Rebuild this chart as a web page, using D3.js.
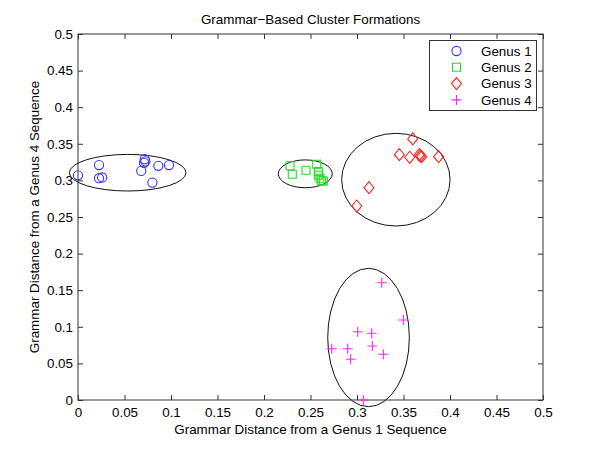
<!DOCTYPE html>
<html>
<head>
<meta charset="utf-8">
<script src="https://cdn.jsdelivr.net/npm/d3@7"></script>
<style>
  body { margin: 0; background: #fff; }
  text { font-family: "Liberation Sans", Arial, sans-serif; }
</style>
</head>
<body>
<div id="chart"></div>
<script>
// cluster points
const genus1X = [0.000, 0.0226, 0.0226, 0.026, 0.0717, 0.0724, 0.071, 0.068, 0.0864, 0.0978, 0.080];
const genus1Y = [0.307, 0.321, 0.303, 0.304, 0.329, 0.326, 0.324, 0.313, 0.320, 0.321, 0.297];
const genus2X = [0.228, 0.2304, 0.2452, 0.2567, 0.2584, 0.2588, 0.2602, 0.262, 0.2638];
const genus2Y = [0.320, 0.3083, 0.3138, 0.322, 0.312, 0.307, 0.3029, 0.2996, 0.2992];
const genus3X = [0.3599, 0.3455, 0.3567, 0.367, 0.368, 0.3696, 0.3878, 0.3129, 0.2997];
const genus3Y = [0.3566, 0.3351, 0.3316, 0.3351, 0.3333, 0.3324, 0.3324, 0.290, 0.265];
const genus4X = [0.3266, 0.3498, 0.3008, 0.3158, 0.2728, 0.290, 0.3165, 0.2932, 0.3283, 0.3068];
const genus4Y = [0.1602, 0.1093, 0.0933, 0.0911, 0.0701, 0.0701, 0.0738, 0.0556, 0.0624, 0.000];

const seriesNames = ['Genus 1', 'Genus 2', 'Genus 3', 'Genus 4'];

// ellipses drawn around each cluster: centre and radii in data units
const ellipseCx = [0.0534, 0.2444, 0.3418, 0.3124];
const ellipseCy = [0.3105, 0.309, 0.301, 0.0854];
const ellipseRx = [0.0627, 0.029, 0.0583, 0.0439];
const ellipseRy = [0.025, 0.019, 0.0633, 0.0945];

const tickValues = [0, 0.05, 0.1, 0.15, 0.2, 0.25, 0.3, 0.35, 0.4, 0.45, 0.5];

const width = 600, height = 451;
const margin = { top: 34, right: 57, bottom: 51, left: 78 };
const fontSize = 13.4;

const svg = d3.select('#chart').append('svg')
  .attr('width', width)
  .attr('height', height);

const x = d3.scaleLinear().domain([0, 0.5]).range([margin.left, width - margin.right]);
const y = d3.scaleLinear().domain([0, 0.5]).range([height - margin.bottom, margin.top]);

const fmt = d => String(+d.toFixed(2));
const axisColor = '#333';

// axes, ticks pointing inward like the original
const xAxis = svg.append('g')
  .attr('transform', 'translate(0,' + y(0) + ')')
  .call(d3.axisBottom(x).tickValues(tickValues).tickSize(-5).tickPadding(7).tickFormat(fmt));
const xTop = svg.append('g')
  .attr('transform', 'translate(0,' + y(0.5) + ')')
  .call(d3.axisTop(x).tickValues(tickValues).tickSize(-5).tickFormat(''));
const yAxis = svg.append('g')
  .attr('transform', 'translate(' + x(0) + ',0)')
  .call(d3.axisLeft(y).tickValues(tickValues).tickSize(-5).tickPadding(5).tickFormat(fmt));
const yRight = svg.append('g')
  .attr('transform', 'translate(' + x(0.5) + ',0)')
  .call(d3.axisRight(y).tickValues(tickValues).tickSize(-5).tickFormat(''));

[xAxis, xTop, yAxis, yRight].forEach(function(g) {
  g.select('.domain').attr('stroke', axisColor).attr('d', null);
  g.selectAll('.tick line').attr('stroke', axisColor);
  g.selectAll('text').attr('font-size', fontSize).attr('fill', '#000')
    .attr('font-family', '"Liberation Sans", Arial, sans-serif');
});

svg.append('rect')
  .attr('x', x(0))
  .attr('y', y(0.5))
  .attr('width', x(0.5) - x(0))
  .attr('height', y(0) - y(0.5))
  .attr('fill', 'none')
  .attr('stroke', axisColor);

// cluster ellipses
const ellipses = ellipseCx.map(function(cx, i) {
  return { cx: cx, cy: ellipseCy[i], rx: ellipseRx[i], ry: ellipseRy[i] };
});
svg.append('g').selectAll('ellipse')
  .data(ellipses)
  .enter()
  .append('ellipse')
  .attr('cx', function(d) { return x(d.cx); })
  .attr('cy', function(d) { return y(d.cy); })
  .attr('rx', function(d) { return x(d.rx) - x(0); })
  .attr('ry', function(d) { return y(0) - y(d.ry); })
  .attr('fill', 'none')
  .attr('stroke', '#111')
  .attr('stroke-width', 1);

const colors = ['#3333ff', '#22dd22', '#ff2222', '#ff22ff'];

// MATLAB-like markers: o, square, diamond, +
function markerPath(i) {
  if (i === 0) return d3.symbol().type(d3.symbolCircle).size(66)();
  if (i === 1) return 'M-4,-4H4V4H-4Z';
  if (i === 2) return 'M0,-6L5,0L0,6L-5,0Z';
  return 'M-5,0H5M0,-5V5';
}

const seriesX = [genus1X, genus2X, genus3X, genus4X];
const seriesY = [genus1Y, genus2Y, genus3Y, genus4Y];

seriesX.forEach(function(xs, i) {
  const pts = xs.map(function(v, j) { return [v, seriesY[i][j]]; });
  svg.append('g').selectAll('path')
    .data(pts)
    .enter()
    .append('path')
    .attr('transform', function(d) { return 'translate(' + x(d[0]) + ',' + y(d[1]) + ')'; })
    .attr('d', markerPath(i))
    .attr('fill', 'none')
    .attr('stroke', colors[i])
    .attr('stroke-width', 1.1);
});

// legend
const legend = svg.append('g');
legend.append('rect')
  .attr('x', 429.5)
  .attr('y', 40.5)
  .attr('width', 107)
  .attr('height', 70)
  .attr('fill', '#fff')
  .attr('stroke', axisColor);
seriesNames.forEach(function(name, i) {
  const ly = 51 + i * 16.3;
  legend.append('path')
    .attr('transform', 'translate(456.5,' + ly + ')')
    .attr('d', markerPath(i))
    .attr('fill', 'none')
    .attr('stroke', colors[i])
    .attr('stroke-width', 1.1);
  legend.append('text')
    .attr('x', 481)
    .attr('y', ly)
    .attr('dy', '0.35em')
    .attr('font-size', fontSize)
    .text(name);
});

// titles
svg.append('text')
  .attr('x', (x(0) + x(0.5)) / 2)
  .attr('y', 24)
  .attr('text-anchor', 'middle')
  .attr('font-size', fontSize)
  .text('Grammar\u2212Based Cluster Formations');

svg.append('text')
  .attr('x', (x(0) + x(0.5)) / 2)
  .attr('y', 434)
  .attr('text-anchor', 'middle')
  .attr('font-size', fontSize)
  .text('Grammar Distance from a Genus 1 Sequence');

svg.append('text')
  .attr('transform', 'translate(39,' + ((y(0) + y(0.5)) / 2) + ') rotate(-90)')
  .attr('text-anchor', 'middle')
  .attr('font-size', fontSize)
  .text('Grammar Distance from a Genus 4 Sequence');
</script>
</body>
</html>
